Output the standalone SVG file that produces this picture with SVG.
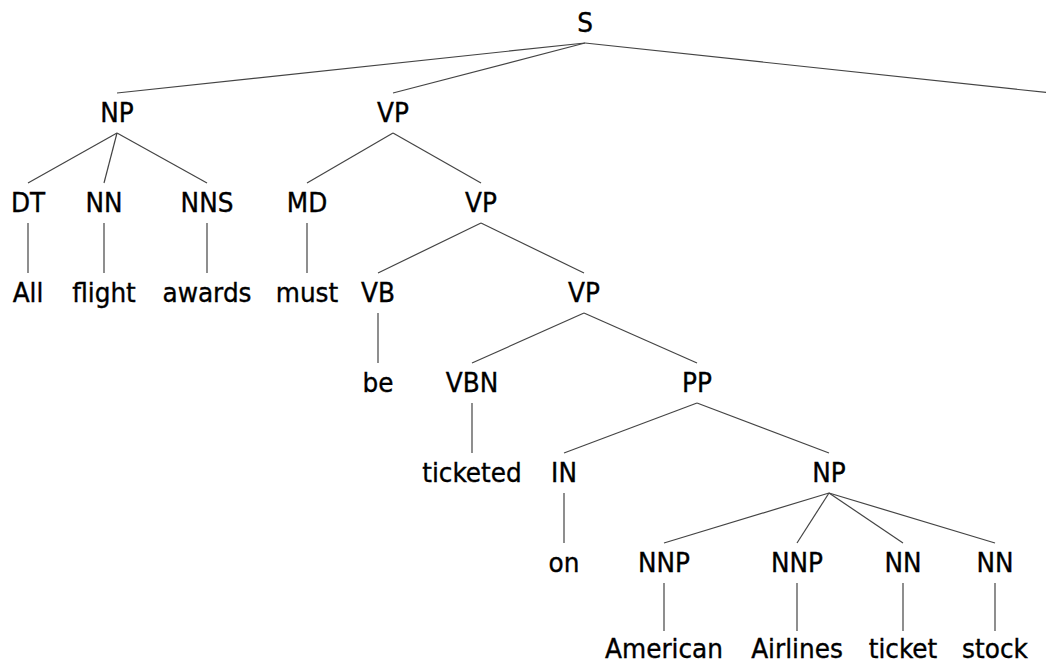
<svg xmlns="http://www.w3.org/2000/svg" width="1046" height="666" viewBox="0 0 1046 666">
<style>
text{font-family:"DejaVu Sans","Liberation Sans",sans-serif;font-size:24.8px;fill:#000;stroke:#000;stroke-width:0.35;text-anchor:middle}
line{stroke:#444;stroke-width:1.2}
</style>
<rect width="1046" height="666" fill="#fff"/>
<g id="connectors">
<line x1="585" y1="43" x2="117" y2="93"/>
<line x1="585" y1="43" x2="393" y2="93"/>
<line x1="585" y1="43" x2="1051" y2="93"/>
<line x1="117" y1="133" x2="28" y2="183"/>
<line x1="117" y1="133" x2="104" y2="183"/>
<line x1="117" y1="133" x2="207" y2="183"/>
<line x1="393" y1="133" x2="307" y2="183"/>
<line x1="393" y1="133" x2="481" y2="183"/>
<line x1="28" y1="223" x2="28" y2="273"/>
<line x1="104" y1="223" x2="104" y2="273"/>
<line x1="207" y1="223" x2="207" y2="273"/>
<line x1="307" y1="223" x2="307" y2="273"/>
<line x1="481" y1="223" x2="378" y2="273"/>
<line x1="481" y1="223" x2="584" y2="273"/>
<line x1="378" y1="313" x2="378" y2="363"/>
<line x1="584" y1="313" x2="472" y2="363"/>
<line x1="584" y1="313" x2="697" y2="363"/>
<line x1="472" y1="403" x2="472" y2="453"/>
<line x1="697" y1="403" x2="564" y2="453"/>
<line x1="697" y1="403" x2="829" y2="453"/>
<line x1="564" y1="493" x2="564" y2="543"/>
<line x1="829" y1="493" x2="664" y2="543"/>
<line x1="829" y1="493" x2="797" y2="543"/>
<line x1="829" y1="493" x2="903" y2="543"/>
<line x1="829" y1="493" x2="995" y2="543"/>
<line x1="664" y1="583" x2="664" y2="631"/>
<line x1="797" y1="583" x2="797" y2="631"/>
<line x1="903" y1="583" x2="903" y2="631"/>
<line x1="995" y1="583" x2="995" y2="631"/>
</g>
<g id="n-S" transform="translate(585 32) scale(1 1.08)"><text>S</text></g>
<g id="n-NP1" transform="translate(117 122) scale(1 1.08)"><text>NP</text></g>
<g id="n-VP1" transform="translate(393 122) scale(1 1.08)"><text>VP</text></g>
<g id="n-DT" transform="translate(28 212) scale(1 1.08)"><text>DT</text></g>
<g id="n-NN1" transform="translate(104 212) scale(1 1.08)"><text>NN</text></g>
<g id="n-NNS" transform="translate(207 212) scale(1 1.08)"><text>NNS</text></g>
<g id="n-MD" transform="translate(307 212) scale(1 1.08)"><text>MD</text></g>
<g id="n-VP2" transform="translate(481 212) scale(1 1.08)"><text>VP</text></g>
<g id="w-All" transform="translate(28 302) scale(1 1.08)"><text>All</text></g>
<g id="w-flight" transform="translate(104 302) scale(1 1.08)"><text>flight</text></g>
<g id="w-awards" transform="translate(207 302) scale(1 1.08)"><text>awards</text></g>
<g id="w-must" transform="translate(307 302) scale(1 1.08)"><text>must</text></g>
<g id="n-VB" transform="translate(378 302) scale(1 1.08)"><text>VB</text></g>
<g id="n-VP3" transform="translate(584 302) scale(1 1.08)"><text>VP</text></g>
<g id="w-be" transform="translate(378 392) scale(1 1.08)"><text>be</text></g>
<g id="n-VBN" transform="translate(472 392) scale(1 1.08)"><text>VBN</text></g>
<g id="n-PP" transform="translate(697 392) scale(1 1.08)"><text>PP</text></g>
<g id="w-ticketed" transform="translate(472 482) scale(1 1.08)"><text>ticketed</text></g>
<g id="n-IN" transform="translate(564 482) scale(1 1.08)"><text>IN</text></g>
<g id="n-NP2" transform="translate(829 482) scale(1 1.08)"><text>NP</text></g>
<g id="w-on" transform="translate(564 572) scale(1 1.08)"><text>on</text></g>
<g id="n-NNP1" transform="translate(664 572) scale(1 1.08)"><text>NNP</text></g>
<g id="n-NNP2" transform="translate(797 572) scale(1 1.08)"><text>NNP</text></g>
<g id="n-NN2" transform="translate(903 572) scale(1 1.08)"><text>NN</text></g>
<g id="n-NN3" transform="translate(995 572) scale(1 1.08)"><text>NN</text></g>
<g id="w-American" transform="translate(664 658) scale(1 1.08)"><text>American</text></g>
<g id="w-Airlines" transform="translate(797 658) scale(1 1.08)"><text>Airlines</text></g>
<g id="w-ticket" transform="translate(903 658) scale(1 1.08)"><text>ticket</text></g>
<g id="w-stock" transform="translate(995 658) scale(1 1.08)"><text>stock</text></g>
</svg>
